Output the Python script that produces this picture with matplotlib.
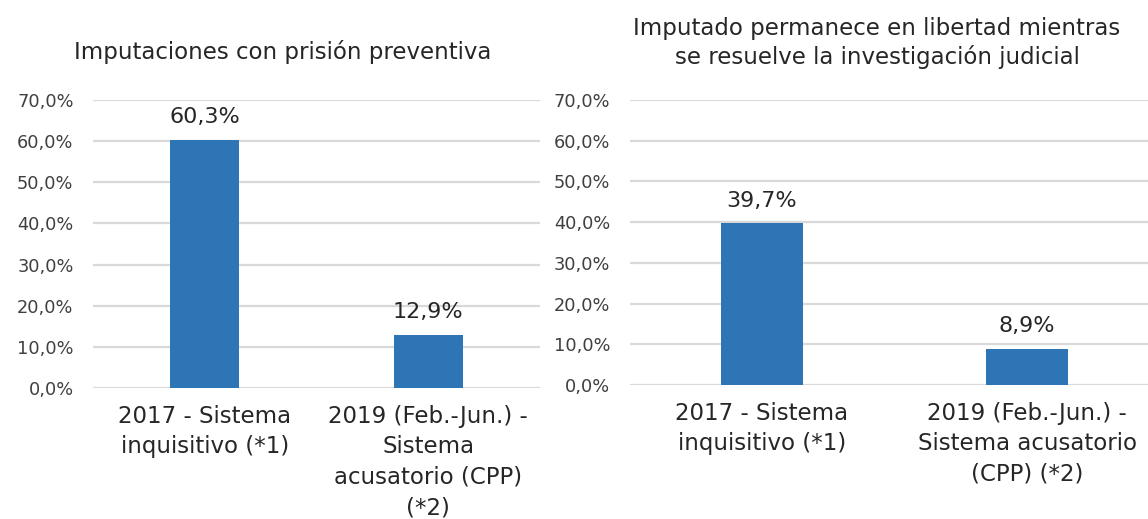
import numpy as np
import matplotlib.pyplot as plt
from matplotlib.ticker import FuncFormatter

# data
cats_left = ['2017 - Sistema\ninquisitivo (*1)',
             '2019 (Feb.-Jun.) -\nSistema\nacusatorio (CPP)\n(*2)']
vals_left = [60.3, 12.9]
cats_right = ['2017 - Sistema\ninquisitivo (*1)',
              '2019 (Feb.-Jun.) -\nSistema acusatorio\n(CPP) (*2)']
vals_right = [39.7, 8.9]
title_left = 'Imputaciones con prisión preventiva'
title_right = 'Imputado permanece en libertad mientras\nse resuelve la investigación judicial'
yticks = [0, 10, 20, 30, 40, 50, 60, 70]

bar_col = '#2E75B6'
grid_col = '#D9D9D9'
plt.rcParams['font.family'] = ['DejaVu Sans']

fig = plt.figure(figsize=(11.48, 5.19), dpi=100)
W, H = 1148, 519


def pct(v, pos=None):
    return '{:.1f}%'.format(v).replace('.', ',')


def panel(rect, cats, vals, xmax):
    ax = fig.add_axes(rect)
    x = np.arange(len(cats))
    ax.bar(x, vals, width=0.31, color=bar_col, zorder=3)
    ax.set_xlim(-0.5, xmax)
    ax.set_ylim(0, 70)
    ax.set_yticks(yticks)
    ax.yaxis.set_major_formatter(FuncFormatter(pct))
    ax.grid(axis='y', color=grid_col, linewidth=1.6, zorder=0)
    for s in ax.spines.values():
        s.set_visible(False)
    ax.tick_params(axis='y', length=0, pad=14, labelsize=12.8, labelcolor='#404040')
    ax.tick_params(axis='x', length=0, pad=12)
    ax.set_xticks(x)
    ax.set_xticklabels(cats, fontsize=16.5, color='#262626', linespacing=1.42)
    for xi, v in zip(x, vals):
        ax.annotate(pct(v), (xi, v), xytext=(0, 9), textcoords='offset points',
                    ha='center', va='bottom', fontsize=16, color='#262626')
    return ax


# left panel: plot area 93..540 px, 0% at y=388, 70% at y=100
axl = panel([93 / W, 1 - 388 / H, 447 / W, 288 / H], cats_left, vals_left, 1.5)
fig.text(283 / W, 1 - 52 / H, title_left, ha='center', va='center',
         fontsize=16.5, color='#262626')

# right panel: plot area 629..1148 px, 0% at y=385, 70% at y=100
axr = panel([629.5 / W, 1 - 385 / H, 518.5 / W, 285 / H], cats_right, vals_right,
            -0.5 + 518.5 / 265)
fig.text(877 / W, 1 - 43 / H, title_right, ha='center', va='center',
         fontsize=16.5, color='#262626', linespacing=1.22)

fig.savefig('out.png', dpi=100)
